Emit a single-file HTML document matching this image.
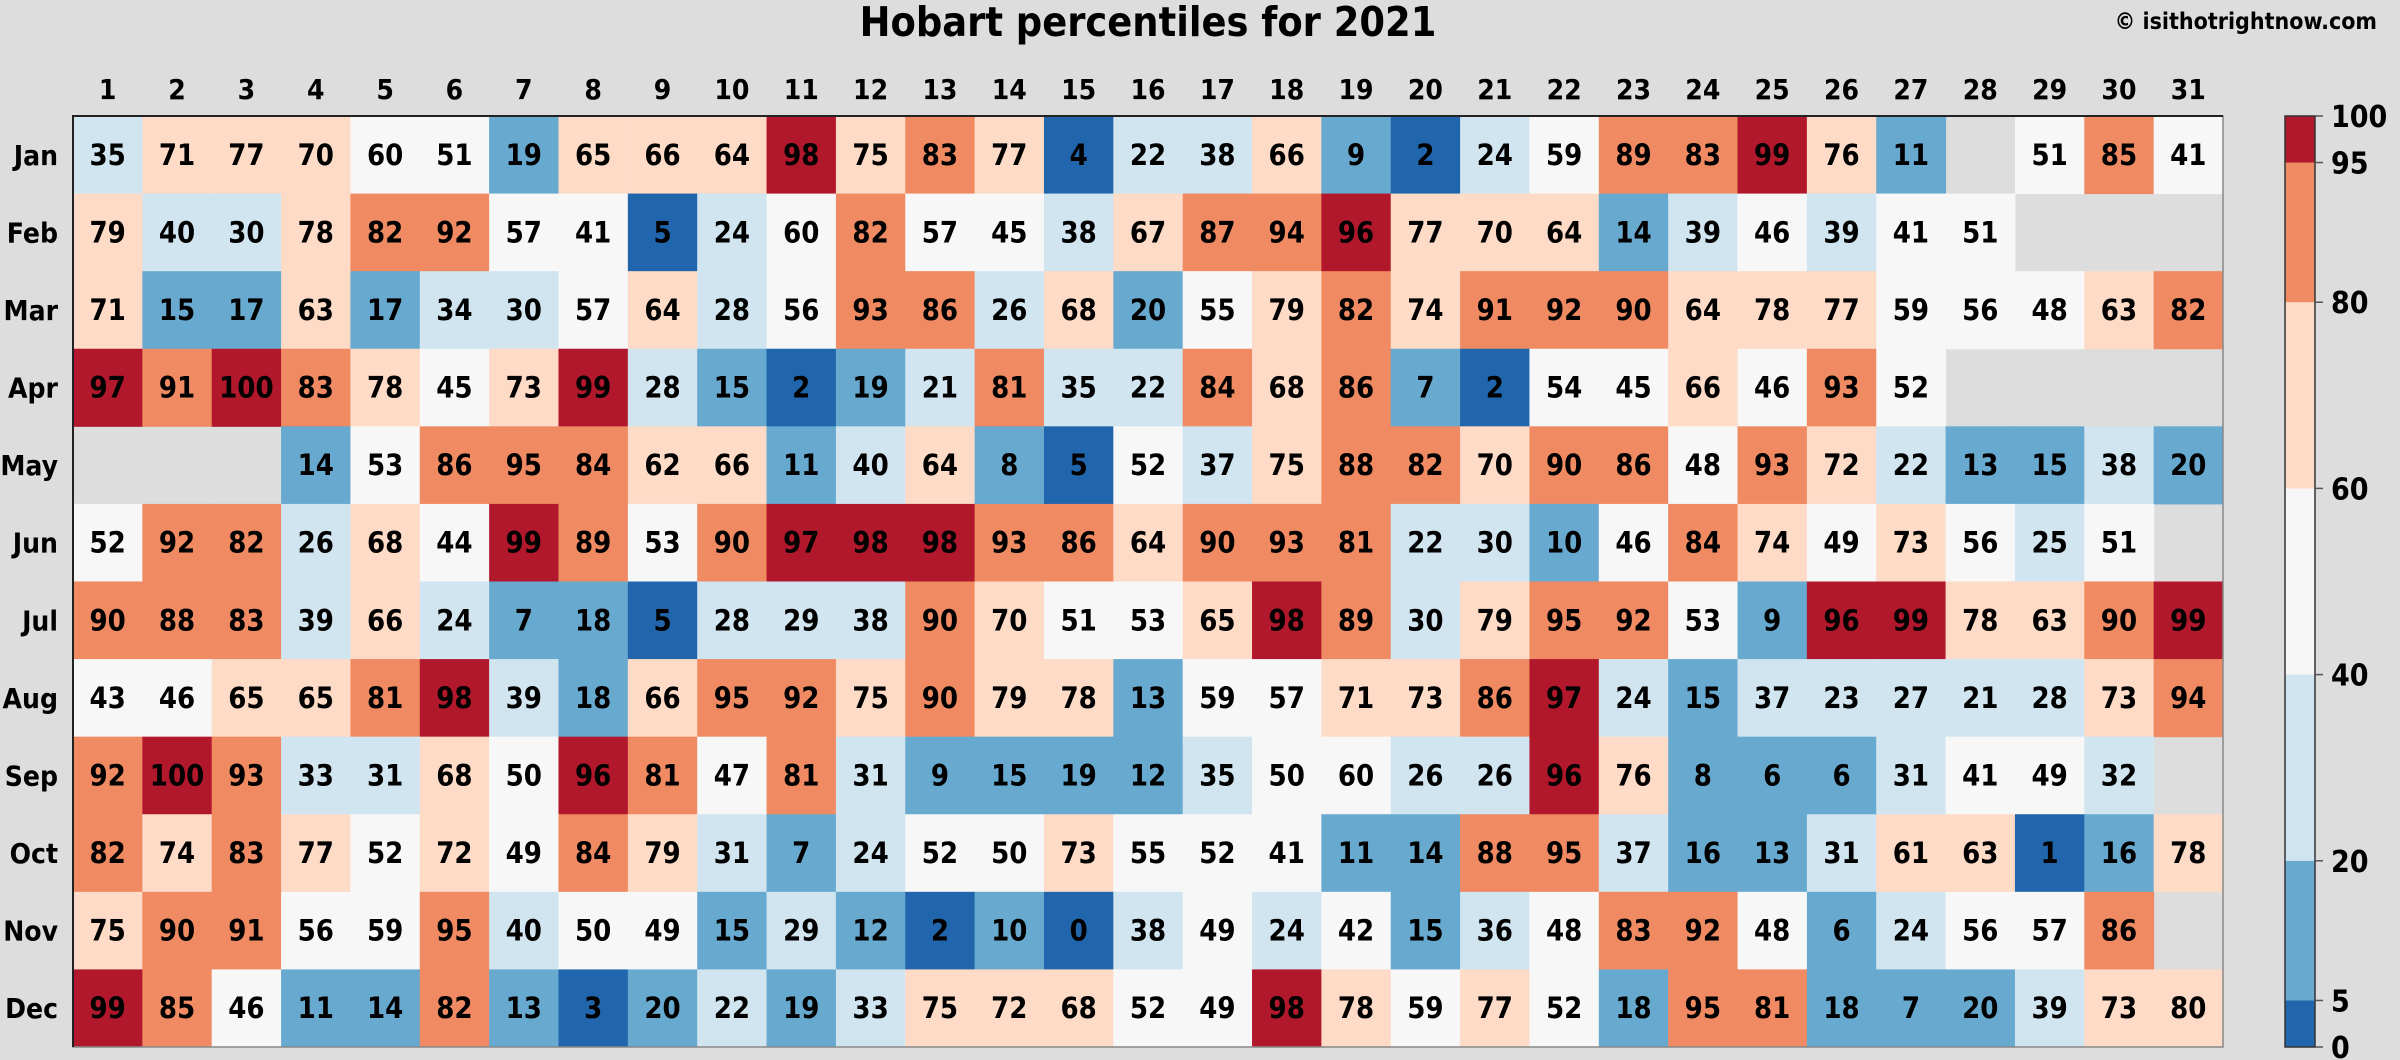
<!DOCTYPE html>
<html><head><meta charset="utf-8"><style>
html,body{margin:0;padding:0;background:#dddddd;}
svg{display:block;}
text{font-family:"Liberation Sans Narrow","DejaVu Sans Condensed","Liberation Sans",sans-serif;font-weight:bold;font-stretch:condensed;}
</style></head><body>
<svg id="chart" width="2400" height="1060" xmlns="http://www.w3.org/2000/svg">
<rect width="2400" height="1060" fill="#dddddd"/>
<text x="1148" y="36" text-anchor="middle" font-size="41" fill="#000">Hobart percentiles for 2021</text>
<text x="2377" y="29" text-anchor="end" font-size="23" fill="#000">© isithotrightnow.com</text>
<g id="cells"></g><g id="labels"></g><g id="cbar"></g>
</svg>
<script>
const months=["Jan","Feb","Mar","Apr","May","Jun","Jul","Aug","Sep","Oct","Nov","Dec"];
const days=Array.from({length:31},(_,i)=>String(i+1));
const jan=[35,71,77,70,60,51,19,65,66,64,98,75,83,77,4,22,38,66,9,2,24,59,89,83,99,76,11,null,51,85,41];
const feb=[79,40,30,78,82,92,57,41,5,24,60,82,57,45,38,67,87,94,96,77,70,64,14,39,46,39,41,51,null,null,null];
const mar=[71,15,17,63,17,34,30,57,64,28,56,93,86,26,68,20,55,79,82,74,91,92,90,64,78,77,59,56,48,63,82];
const apr=[97,91,100,83,78,45,73,99,28,15,2,19,21,81,35,22,84,68,86,7,2,54,45,66,46,93,52,null,null,null,null];
const may=[null,null,null,14,53,86,95,84,62,66,11,40,64,8,5,52,37,75,88,82,70,90,86,48,93,72,22,13,15,38,20];
const jun=[52,92,82,26,68,44,99,89,53,90,97,98,98,93,86,64,90,93,81,22,30,10,46,84,74,49,73,56,25,51,null];
const jul=[90,88,83,39,66,24,7,18,5,28,29,38,90,70,51,53,65,98,89,30,79,95,92,53,9,96,99,78,63,90,99];
const aug=[43,46,65,65,81,98,39,18,66,95,92,75,90,79,78,13,59,57,71,73,86,97,24,15,37,23,27,21,28,73,94];
const sep=[92,100,93,33,31,68,50,96,81,47,81,31,9,15,19,12,35,50,60,26,26,96,76,8,6,6,31,41,49,32,null];
const oct=[82,74,83,77,52,72,49,84,79,31,7,24,52,50,73,55,52,41,11,14,88,95,37,16,13,31,61,63,1,16,78];
const nov=[75,90,91,56,59,95,40,50,49,15,29,12,2,10,0,38,49,24,42,15,36,48,83,92,48,6,24,56,57,86,null];
const dec=[99,85,46,11,14,82,13,3,20,22,19,33,75,72,68,52,49,98,78,59,77,52,18,95,81,18,7,20,39,73,80];
const values=[jan,feb,mar,apr,may,jun,jul,aug,sep,oct,nov,dec];
const binEdges=[0,5,20,40,60,80,95,100];
const binColors=["#2166ac","#67a9cf","#d1e5f0","#f7f7f7","#fddbc7","#ef8a62","#b2182b"];
const cbTicks=["0","5","20","40","60","80","95","100"];

const NS="http://www.w3.org/2000/svg";
const X0=73,X1=2223,Y0=116,Y1=1047;
const cw=(X1-X0)/days.length, ch=(Y1-Y0)/months.length;
const xs=i=>X0+i*cw, ys=j=>Y0+j*ch;
function color(v){for(let k=1;k<binEdges.length;k++){if(v<=binEdges[k])return binColors[k-1];}return binColors[binColors.length-1];}
function mk(tag,attrs,parent){const e=document.createElementNS(NS,tag);for(const k in attrs)e.setAttribute(k,attrs[k]);parent.appendChild(e);return e;}
const cells=document.getElementById('cells'),labels=document.getElementById('labels'),cbar=document.getElementById('cbar');
values.forEach((row,j)=>{row.forEach((v,i)=>{
  if(v===null)return;
  const r=mk('rect',{x:xs(i),y:ys(j),width:cw+0.5,height:ch+0.5,fill:color(v)},cells);
  
  
  const t=mk('text',{x:xs(i)+cw/2,y:ys(j)+ch/2+10,'text-anchor':'middle','font-size':29,fill:'#000'},cells);
  t.textContent=v;
  
  
});});
const fr=mk('rect',{x:X0,y:Y0,width:X1-X0,height:Y1-Y0,fill:'none',stroke:'#888','stroke-width':1.5},labels);


const tl=mk('path',{d:`M${X0},${Y1}V${Y0}H${X1}`,fill:'none',stroke:'#222','stroke-width':2},labels);


days.forEach((d,i)=>{const t=mk('text',{x:xs(i)+cw/2,y:99,'text-anchor':'middle','font-size':28,fill:'#000'},labels);t.textContent=d;

});
months.forEach((m,j)=>{const t=mk('text',{x:58,y:ys(j)+ch/2+10,'text-anchor':'end','font-size':28,fill:'#000'},labels);t.textContent=m;

});
const CX=2285,CW=30;
const cy=v=>Y1-(v/100)*(Y1-Y0);
for(let k=0;k<binColors.length;k++){
  const r=mk('rect',{x:CX,y:cy(binEdges[k+1]),width:CW,height:cy(binEdges[k])-cy(binEdges[k+1]),fill:binColors[k]},cbar);
  
  
}
const cf=mk('rect',{x:CX,y:Y0,width:CW,height:Y1-Y0,fill:'none',stroke:'#333','stroke-width':1.5},cbar);


cbTicks.forEach(s=>{const v=+s;
  const l=mk('line',{x1:CX+CW,x2:CX+CW+8,y1:cy(v),y2:cy(v),stroke:'#555','stroke-width':1.5},cbar);
  
  
  const t=mk('text',{x:2331,y:cy(v)+11,'font-size':30,fill:'#000'},cbar);t.textContent=s;
  
  
});
</script>
</body></html>
